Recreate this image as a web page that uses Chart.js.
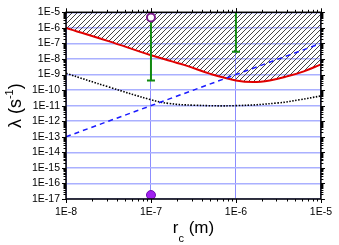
<!DOCTYPE html>
<html><head><meta charset="utf-8">
<script src="https://cdn.jsdelivr.net/npm/chart.js@4"></script>
<style>html,body{margin:0;padding:0;background:#fff}</style>
</head><body>
<canvas id="c" width="339" height="245"></canvas>
<script>
// ---- data ----
const xTicks = [1e-8, 1e-7, 1e-6, 1e-5];
const yTicks = [1e-17,1e-16,1e-15,1e-14,1e-13,1e-12,1e-11,1e-10,1e-9,1e-8,1e-7,1e-6,1e-5];

// red limit curve (hatched region above it)
const redX = [1e-8, 3.16e-8, 1e-7, 2.5e-7, 5e-7, 1e-6, 1.6e-6, 2.5e-6, 4e-6, 6.3e-6, 1e-5];
const redY = [1e-6, 1.4e-7, 1.74e-8, 4e-9, 1.1e-9, 4.2e-10, 3.3e-10, 4.2e-10, 7.6e-10, 1.6e-9, 4.5e-9];

// black dotted curve
const dotX = [1e-8, 3.16e-8, 1e-7, 1.6e-7, 3.16e-7, 1e-6, 3.16e-6, 5.6e-6, 1e-5];
const dotY = [1.2e-9, 1.6e-10, 2.4e-11, 1.4e-11, 1.07e-11, 1e-11, 1.5e-11, 2.4e-11, 4.2e-11];

// blue dashed line
const dashX = [1e-8, 1e-5];
const dashY = [1e-13, 1e-7];

// green error bars
const barX = [1e-7, 1e-6];
const barLow = [4.2e-10, 2.9e-8];
const barHigh = [4.6e-6, 1e-5];

// purple points
const openX = [1e-7], openY = [4.6e-6];
const fullX = [1e-7], fullY = [1.8e-17];

const FONT = '"Liberation Sans", Arial, sans-serif';
const pts = (xs, ys) => xs.map((x, i) => ({x: x, y: ys[i]}));
const fmt = v => '1E' + Math.round(Math.log10(v));

// hatch pattern
const tile = document.createElement('canvas');
tile.width = 5; tile.height = 5;
const tc = tile.getContext('2d');
tc.strokeStyle = '#444';
tc.lineWidth = 1;
tc.beginPath();
tc.moveTo(0, 5); tc.lineTo(5, 0);
tc.moveTo(-1, 1); tc.lineTo(1, -1);
tc.moveTo(4, 6); tc.lineTo(6, 4);
tc.stroke();
const hatch = tc.createPattern(tile, 'repeat');

const datasets = [
  {data: pts(redX, redY), showLine: true, borderColor: '#e00000', borderWidth: 2,
   pointRadius: 0, tension: 0.4, fill: 'end', backgroundColor: hatch, order: 6},
  {data: pts(dotX, dotY), showLine: true, borderColor: '#000', borderWidth: 1.6,
   borderDash: [1.5, 1.5], pointRadius: 0, tension: 0.4, fill: false, order: 5},
  {data: pts(dashX, dashY), showLine: true, borderColor: '#1a1aff', borderWidth: 1.5,
   borderDash: [5, 4], pointRadius: 0, fill: false, order: 4}
];
barX.forEach((x, i) => {
  datasets.push({data: [{x: x, y: barLow[i]}, {x: x, y: barHigh[i]}], showLine: true,
    borderColor: '#118a11', borderWidth: 2, fill: false, order: 3,
    pointStyle: 'line', pointRadius: c => c.dataIndex === 0 ? 4 : 0,
    pointBorderColor: '#118a11', pointBorderWidth: 2, pointBackgroundColor: '#118a11'});
});
datasets.push({data: pts(openX, openY), pointRadius: 4, pointBorderWidth: 2,
  pointBorderColor: '#7a1a8a', pointBackgroundColor: '#fff', order: 1});
datasets.push({data: pts(fullX, fullY), pointRadius: 4.5, pointBorderWidth: 1,
  pointBorderColor: '#7010b0', pointBackgroundColor: '#a020f0', order: 1});

// frame, ticks on all sides, axis titles
const decor = {
  id: 'decor',
  afterDraw(chart) {
    const ctx = chart.ctx, a = chart.chartArea;
    const xs = chart.scales.x, ys = chart.scales.y;
    ctx.save();
    ctx.strokeStyle = '#000';
    ctx.lineWidth = 1;
    ctx.beginPath();
    for (let d = -8; d < -5; d++) {
      for (let m = 1; m <= 10; m++) {
        const px = Math.round(xs.getPixelForValue(m * Math.pow(10, d))) + 0.5;
        const L = (m === 1 || m === 10) ? 4 : 2.5;
        ctx.moveTo(px, a.bottom); ctx.lineTo(px, a.bottom + L);
        ctx.moveTo(px, a.top); ctx.lineTo(px, a.top - L);
      }
    }
    for (let d = -17; d < -5; d++) {
      for (let m = 1; m <= 10; m++) {
        const py = Math.round(ys.getPixelForValue(m * Math.pow(10, d))) + 0.5;
        const L = (m === 1 || m === 10) ? 4 : 2.5;
        ctx.moveTo(a.left, py); ctx.lineTo(a.left - L, py);
        ctx.moveTo(a.right, py); ctx.lineTo(a.right + L, py);
      }
    }
    ctx.stroke();
    ctx.lineWidth = 1.5;
    ctx.strokeRect(a.left, a.top, a.right - a.left, a.bottom - a.top);

    ctx.fillStyle = '#000';
    ctx.textBaseline = 'alphabetic';
    ctx.textAlign = 'left';
    // x title: r_c (m)
    const big = '17px ' + FONT, small = '11px ' + FONT;
    ctx.font = big; const wr = ctx.measureText('r').width;
    const wm = ctx.measureText(' (m)').width;
    ctx.font = small; const wc = ctx.measureText('c').width;
    let x0 = (a.left + a.right) / 2 - (wr + wc + wm) / 2;
    ctx.font = big; ctx.fillText('r', x0, 233);
    ctx.font = small; ctx.fillText('c', x0 + wr, 242);
    ctx.font = big; ctx.fillText(' (m)', x0 + wr + wc, 233);

    // y title: λ (s^-1)
    ctx.translate(21, (a.top + a.bottom) / 2);
    ctx.rotate(-Math.PI / 2);
    ctx.font = '18px ' + FONT; const w1 = ctx.measureText('λ (s').width;
    const w3 = ctx.measureText(')').width;
    ctx.font = small; const w2 = ctx.measureText('-1').width;
    let s = -(w1 + w2 + w3) / 2;
    ctx.font = '18px ' + FONT; ctx.fillText('λ (s', s, 0);
    ctx.font = small; ctx.fillText('-1', s + w1, -8);
    ctx.font = '18px ' + FONT; ctx.fillText(')', s + w1 + w2, 0);
    ctx.restore();
  }
};

new Chart(document.getElementById('c'), {
  type: 'scatter',
  data: {datasets: datasets},
  options: {
    responsive: false,
    animation: false,
    layout: {padding: {top: 9, right: 14, left: 0, bottom: 0}},
    plugins: {legend: {display: false}, tooltip: {enabled: false}},
    scales: {
      x: {
        type: 'logarithmic', min: 1e-8, max: 1e-5,
        afterBuildTicks: s => { s.ticks = xTicks.map(v => ({value: v})); },
        afterFit: s => { s.height = 46; },
        ticks: {callback: v => fmt(v), color: '#000', padding: 7, maxRotation: 0,
                autoSkip: false, font: {size: 10.5, family: FONT}},
        grid: {color: '#8c8cff', lineWidth: 1, drawTicks: false},
        border: {display: false}
      },
      y: {
        type: 'logarithmic', min: 1e-17, max: 1e-5,
        afterBuildTicks: s => { s.ticks = yTicks.map(v => ({value: v})); },
        afterFit: s => { s.width = 66; },
        ticks: {callback: v => fmt(v), color: '#000', padding: 6,
                autoSkip: false, font: {size: 10.5, family: FONT}},
        grid: {color: '#aab0ff', lineWidth: 1.5, drawTicks: false},
        border: {display: false}
      }
    }
  },
  plugins: [decor]
});
</script>
</body></html>
